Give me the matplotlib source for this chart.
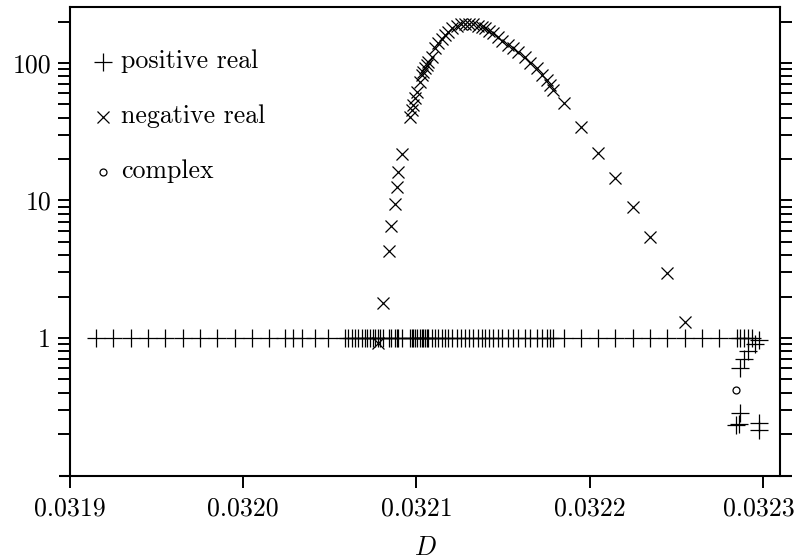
#!/usr/bin/env python3
"""
Floquet multipliers vs D (log scale).
Markers: + positive real, x negative real, o complex.
"""

import numpy as np
import matplotlib
matplotlib.use("Agg")
import matplotlib.pyplot as plt
import matplotlib.transforms as mtransforms
from matplotlib.ticker import FixedLocator, LogLocator, NullFormatter

plt.rcParams['font.family'] = 'cmr10'
plt.rcParams['mathtext.fontset'] = 'cm'
plt.rcParams['axes.formatter.use_mathtext'] = True

# ================= DATA =================
# positive real multipliers (trivial one at 1 plus the tail near D=0.03229)
D_POS = [
    0.031915, 0.031925, 0.031935, 0.031945, 0.031955, 0.031965, 0.031975, 0.031985,
    0.031995, 0.032005, 0.032015,
    0.0320241, 0.0320289, 0.0320338, 0.0320415, 0.0320491, 0.0320588, 0.0320607,
    0.0320626, 0.0320646, 0.0320665, 0.0320684, 0.0320703, 0.0320717, 0.0320732,
    0.0320748, 0.0320761, 0.0320780, 0.0320790, 0.0320805,
    0.0320842, 0.0320852, 0.0320876, 0.0320886, 0.0320896, 0.0320915,
    0.0320963, 0.0320973, 0.0320982, 0.0320992, 0.0321002, 0.0321021, 0.0321031,
    0.0321040, 0.0321050, 0.0321059, 0.0321069, 0.0321088, 0.0321107, 0.0321126,
    0.0321146, 0.0321165, 0.0321184, 0.0321207, 0.0321233, 0.0321257, 0.0321281,
    0.0321304, 0.0321329, 0.0321354, 0.0321377, 0.0321396, 0.0321419, 0.0321444,
    0.0321469, 0.0321496, 0.0321527, 0.0321559, 0.0321588, 0.0321627, 0.0321656,
    0.0321695, 0.0321723, 0.0321752, 0.0321771, 0.0321790,
    0.032185, 0.032195, 0.032205, 0.032215, 0.032225, 0.032235, 0.032245, 0.032255,
    0.032265, 0.032275, 0.032285,
    0.0322868, 0.0322891, 0.0322916, 0.0322936,
    # tail
    0.0322868, 0.0322891, 0.0322916, 0.0322955, 0.0322980,
    0.0322845, 0.0322864, 0.0322868, 0.0322980, 0.0322980,
]
POS_VAL = [
    1.0, 1.0, 1.0, 1.0, 1.0, 1.0, 1.0, 1.0,
    1.0, 1.0, 1.0,
    1.0, 1.0, 1.0, 1.0, 1.0, 1.0, 1.0,
    1.0, 1.0, 1.0, 1.0, 1.0, 1.0, 1.0,
    1.0, 1.0, 1.0, 1.0, 1.0,
    1.0, 1.0, 1.0, 1.0, 1.0, 1.0,
    1.0, 1.0, 1.0, 1.0, 1.0, 1.0, 1.0,
    1.0, 1.0, 1.0, 1.0, 1.0, 1.0, 1.0,
    1.0, 1.0, 1.0, 1.0, 1.0, 1.0, 1.0,
    1.0, 1.0, 1.0, 1.0, 1.0, 1.0, 1.0,
    1.0, 1.0, 1.0, 1.0, 1.0, 1.0, 1.0,
    1.0, 1.0, 1.0, 1.0, 1.0,
    1.0, 1.0, 1.0, 1.0, 1.0, 1.0, 1.0, 1.0,
    1.0, 1.0, 1.0,
    1.0, 1.0, 1.0, 1.0,
    # tail
    0.61, 0.70, 0.81, 0.90, 0.97,
    0.233, 0.237, 0.283, 0.242, 0.214,
]

# negative real multipliers (plotted as |lambda|)
D_NEG = [
    0.0320780, 0.0320805, 0.0320842, 0.0320852, 0.0320876, 0.0320886, 0.0320896,
    0.0320915, 0.0320963, 0.0320973, 0.0320982, 0.0320992, 0.0321002, 0.0321021,
    0.0321031, 0.0321040, 0.0321050, 0.0321059, 0.0321069, 0.0321088, 0.0321107,
    0.0321126, 0.0321146, 0.0321165, 0.0321184, 0.0321207, 0.0321233, 0.0321257,
    0.0321281, 0.0321304, 0.0321329, 0.0321354, 0.0321377, 0.0321396, 0.0321419,
    0.0321444, 0.0321469, 0.0321496, 0.0321527, 0.0321559, 0.0321588, 0.0321627,
    0.0321656, 0.0321695, 0.0321723, 0.0321752, 0.0321771, 0.0321790,
    0.032185, 0.032195, 0.032205, 0.032215, 0.032225, 0.032235, 0.032245, 0.032255,
]
NEG_VAL = [
    0.915, 1.79, 4.31, 6.56, 9.43, 12.6, 16.2,
    21.8, 40.7, 45.5, 49.5, 55.4, 61.8, 73.1,
    81.8, 86.4, 91.5, 96.7, 102, 111, 128,
    139, 149, 160, 169, 179, 187, 191,
    193, 193, 191, 187, 183, 178, 172,
    164, 155, 145, 135, 128, 121, 111,
    100, 91.5, 81.8, 75.2, 69.2, 63.6,
    51.2, 34.4, 22.3, 14.5, 9.02, 5.43, 2.97, 1.31,
]

# complex pair (modulus)
D_CPX = [0.0322845]
CPX_VAL = [0.419]

XTICKS = [0.0319, 0.0320, 0.0321, 0.0322, 0.0323]
XTICK_LABELS = ['0.0319', '0.0320', '0.0321', '0.0322', '0.0323']
YTICKS = [1, 10, 100]
YTICK_LABELS = ['1', '10', '100']

LEGEND = [('+', 'positive real', 12.5), ('x', 'negative real', 8.8),
          ('o', 'complex', 5.0)]
# ========================================

FS = 18.6


def main():
    fig = plt.figure(figsize=(7.97, 5.59), dpi=100)
    ax = fig.add_axes([70 / 797, 83 / 559, 710 / 797, 469 / 559])

    ax.set_yscale('log')
    ax.set_xlim(0.0319, 0.03231)
    ax.set_ylim(0.0992, 255)

    ax.plot(D_POS, POS_VAL, ls='none', marker='+', ms=12.5, mew=0.9, color='k')
    ax.plot(D_NEG, NEG_VAL, ls='none', marker='x', ms=8.8, mew=0.9, color='k')
    ax.plot(D_CPX, CPX_VAL, ls='none', marker='o', ms=5.0, mew=0.9,
            mfc='none', color='k')

    # ticks
    ax.set_xticks(XTICKS)
    ax.set_xticklabels(XTICK_LABELS)
    ax.yaxis.set_major_locator(FixedLocator(YTICKS))
    ax.set_yticklabels(YTICK_LABELS)
    ax.yaxis.set_minor_locator(LogLocator(base=10, subs=np.arange(2, 10)))
    ax.yaxis.set_minor_formatter(NullFormatter())
    ax.tick_params(axis='both', which='both', direction='out', length=8.6,
                   width=1.4, labelsize=FS, top=False)
    ax.tick_params(axis='y', which='both', right=True, pad=5)
    ax.tick_params(axis='x', pad=6)

    # last x label sits right at the figure edge: nudge it in a few pixels
    last = ax.get_xticklabels()[-1]
    last.set_transform(last.get_transform() +
                       mtransforms.ScaledTranslation(-4 / 100, 0, fig.dpi_scale_trans))

    for s in ax.spines.values():
        s.set_linewidth(1.5)
    ax.spines['bottom'].set_visible(False)
    # bottom axis line runs a bit past the box on both sides
    ax.plot([-0.0155, 1.017], [0, 0], transform=ax.transAxes, color='k',
            lw=1.5, clip_on=False, solid_capstyle='butt')

    ax.set_xlabel('$D$', fontsize=FS, labelpad=12)

    # hand-drawn legend, no frame
    for i, (m, lab, ms) in enumerate(LEGEND):
        yb = 0.8693 - i * 0.1173
        kw = dict(mfc='none') if m == 'o' else {}
        ax.plot([0.0465], [yb + 0.0140], marker=m, ms=ms, mew=0.9, color='k',
                transform=ax.transAxes, clip_on=False, **kw)
        ax.text(0.0718, yb, lab, transform=ax.transAxes, fontsize=FS,
                va='baseline', ha='left')

    fig.savefig('out.png', dpi=100)


if __name__ == '__main__':
    main()
